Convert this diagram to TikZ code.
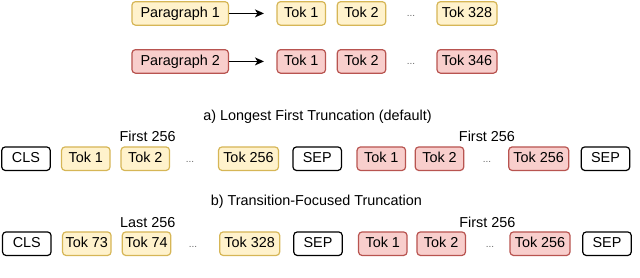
\documentclass[tikz,border=0pt]{standalone}
\usepackage{fontspec}
\setmainfont{Liberation Sans}
\usetikzlibrary{arrows.meta}
\definecolor{yfill}{HTML}{FFF2CC}
\definecolor{ydraw}{HTML}{D6B656}
\definecolor{rfill}{HTML}{F8CECC}
\definecolor{rdraw}{HTML}{B85450}
\definecolor{dotgray}{HTML}{666666}
\begin{document}
\begin{tikzpicture}[x=1pt,y=-1pt,
  font=\fontsize{14.4}{17}\selectfont,
  box/.style={rounded corners=3.5pt, line width=1.2pt, minimum height=23.5pt,
    inner sep=0pt, text height=10.4pt, text depth=2.6pt, anchor=center},
  ybox/.style={box, fill=yfill, draw=ydraw},
  rbox/.style={box, fill=rfill, draw=rdraw},
  kbox/.style={box, fill=white, draw=black},
  w48/.style={minimum width=48.5pt},
  w60/.style={minimum width=60pt},
  dotsnode/.style={text=dotgray, font=\fontsize{10}{12}\selectfont, inner sep=0pt},
  lbl/.style={inner sep=0pt, anchor=center},
  arr/.style={line width=1.2pt, -{Stealth[length=9pt,width=8pt,inset=2.5pt]}, shorten >=12.5pt}
]
\useasboundingbox (0,0) rectangle (640,277);

% --- top: paragraphs to tokens
\node[ybox, minimum width=96.5pt] (p1) at (180.2,13.4) {Paragraph 1};
\node[ybox, w48] (p1t1) at (301.3,13.4) {Tok 1};
\node[ybox, w48] (p1t2) at (361.5,13.4) {Tok 2};
\node[dotsnode] (p1d) at (411,15.8) {...};
\node[ybox, w60] (p1t3) at (467,13.4) {Tok 328};

\node[rbox, minimum width=96.5pt] (p2) at (180.2,61.4) {Paragraph 2};
\node[rbox, w48] (p2t1) at (301.3,61.4) {Tok 1};
\node[rbox, w48] (p2t2) at (361.5,61.4) {Tok 2};
\node[dotsnode] (p2d) at (411,63.8) {...};
\node[rbox, w60] (p2t3) at (467,61.4) {Tok 346};

\draw[arr] (p1.east) -- (p1t1.west);
\draw[arr] (p2.east) -- (p2t1.west);

% --- a) Longest First Truncation
\node[lbl] (ta) at (317.5,116.5) {a) Longest First Truncation (default)};
\node[lbl] (fa1) at (147.7,136.5) {First 256};
\node[lbl] (fa2) at (487,136.5) {First 256};

\node[kbox, w48] (acls) at (26,158.7) {CLS};
\node[ybox, w48] (aa1) at (85.8,158.7) {Tok 1};
\node[ybox, w48] (aa2) at (145.3,158.7) {Tok 2};
\node[dotsnode] (aad) at (190,161.5) {...};
\node[ybox, w60] (aa3) at (248.5,158.7) {Tok 256};
\node[kbox, w48] (asep1) at (317.2,158.7) {SEP};
\node[rbox, w48] (ab1) at (381.3,158.7) {Tok 1};
\node[rbox, w48] (ab2) at (439.5,158.7) {Tok 2};
\node[dotsnode] (abd) at (487,161.5) {...};
\node[rbox, w60] (ab3) at (538.7,158.7) {Tok 256};
\node[kbox, w48] (asep2) at (605.5,158.7) {SEP};

% --- b) Transition-Focused Truncation
\node[lbl] (tb) at (316.3,201.5) {b) Transition-Focused Truncation};
\node[lbl] (lb1) at (147.7,222.7) {Last 256};
\node[lbl] (fb2) at (487.3,222.7) {First 256};

\node[kbox, w48] (bcls) at (26.8,243.7) {CLS};
\node[ybox, w48] (ba1) at (86.8,243.7) {Tok 73};
\node[ybox, w48] (ba2) at (146.5,243.7) {Tok 74};
\node[dotsnode] (bad) at (193,246.5) {...};
\node[ybox, w60] (ba3) at (249.7,243.7) {Tok 328};
\node[kbox, w48] (bsep1) at (318,243.7) {SEP};
\node[rbox, w48] (bb1) at (382.8,243.7) {Tok 1};
\node[rbox, w48] (bb2) at (441.2,243.7) {Tok 2};
\node[dotsnode] (bbd) at (490,246.5) {...};
\node[rbox, w60] (bb3) at (540,243.7) {Tok 256};
\node[kbox, w48] (bsep2) at (607,243.7) {SEP};
\end{tikzpicture}
\end{document}
